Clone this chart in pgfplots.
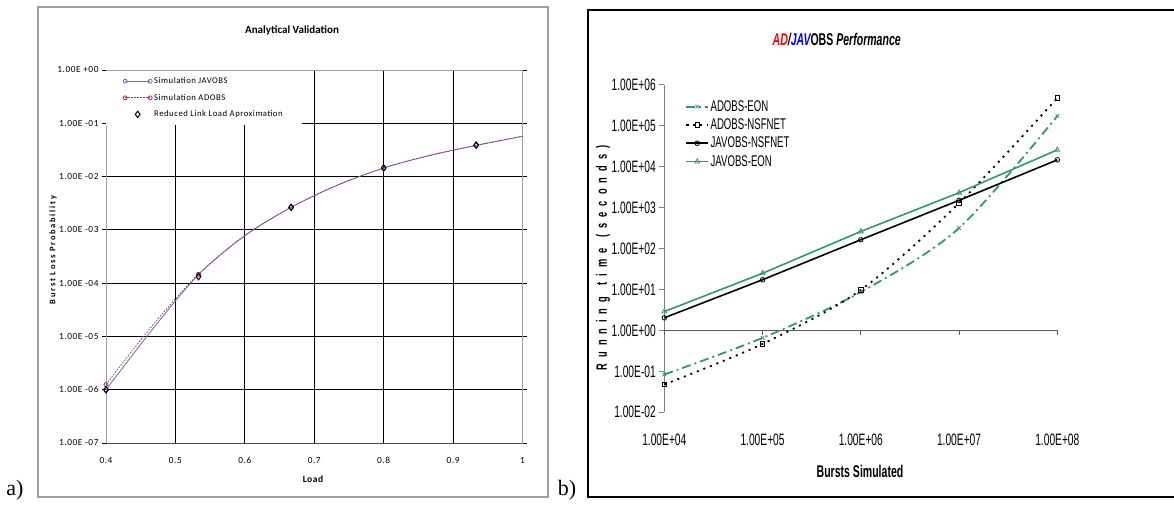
\documentclass[border=0pt]{standalone}
\usepackage{pgfplots}
\pgfplotsset{compat=1.18}
\usepackage{pgfplotstable}
\usepackage{fontspec}
\setmainfont{Liberation Serif}
\newfontfamily\lfont{Carlito}
\newfontfamily\lfontsp[LetterSpace=20]{Carlito}
\newfontfamily\lfontls[LetterSpace=6]{Carlito}
\newfontfamily\rfont[FakeStretch=0.62]{Liberation Sans}
\newfontfamily\rfontsp[FakeStretch=0.62,LetterSpace=40]{Liberation Sans}
\definecolor{javc}{HTML}{6B6BB0}
\definecolor{adc}{HTML}{A03070}
\definecolor{sgreen}{HTML}{339966}
\definecolor{axgray}{HTML}{A0A0A0}

% ---------- panel a data ----------
\pgfplotstableread{
x y
0.4 1.0e-6
0.4667 1.35e-5
0.5333 1.45e-4
0.6 7.8e-4
0.6667 2.65e-3
0.7333 6.9e-3
0.8 1.45e-2
0.8667 2.5e-2
0.9333 3.85e-2
1.0 5.7e-2
}\javtab
\pgfplotstableread{
x y
0.4 1.25e-6
0.4667 1.6e-5
0.5333 1.47e-4
0.6 7.8e-4
0.6667 2.65e-3
0.7333 6.9e-3
0.8 1.45e-2
0.8667 2.5e-2
0.9333 3.85e-2
1.0 5.7e-2
}\adtab
\pgfplotstableread{
x y
0.4 1.0e-6
0.5333 1.33e-4
0.6667 2.65e-3
0.8 1.45e-2
0.9333 3.9e-2
}\rlltab

% ---------- panel b data ----------
\pgfplotstableread{
x y
1e4 0.084
1e5 0.66
1e6 8.7
1e7 318
1e8 1.75e5
}\adeon
\pgfplotstableread{
x y
1e4 0.048
1e5 0.47
1e6 9.8
1e7 1300
1e8 4.8e5
}\adnsf
\pgfplotstableread{
x y
1e4 2.04
1e5 17.4
1e6 165
1e7 1520
1e8 1.48e4
}\javnsf
\pgfplotstableread{
x y
1e4 2.9
1e5 25
1e6 263
1e7 2330
1e8 2.6e4
}\javeon

\begin{document}
\begin{tikzpicture}[x=1pt,y=1pt]
\useasboundingbox (0,0) rectangle (1174,506);
\fill[white] (0,0) rectangle (1174,506);
% frames
\draw[axgray, line width=1.3pt] (38,9) rectangle (548,499);
\draw[black, line width=1.3pt] (588,9) rectangle (1190,496);
\node[font=\fontsize{22}{22}\selectfont] at (15,16) {a)};
\node[font=\fontsize{22}{22}\selectfont] at (567,16) {b)};

% ---------- panel a ----------
\node[font=\lfont\bfseries\fontsize{11}{13}\selectfont] at (292,475) {Analytical Validation};
\node[font=\lfontsp\bfseries\fontsize{8.5}{10}\selectfont, rotate=90] at (53,256) {Burst Loss Probability};
\node[font=\lfontls\bfseries\fontsize{9.5}{11}\selectfont] at (313,27) {Load};

\begin{axis}[
  at={(106pt,63pt)}, anchor=south west, scale only axis,
  width=416.5pt, height=373pt, clip=false,
  xmin=0.4, xmax=1, ymin=1e-7, ymax=1, ymode=log,
  xtick={0.4,0.5,0.6,0.7,0.8,0.9,1},
  xticklabels={0.4,0.5,0.6,0.7,0.8,0.9,1},
  ytick={1e-7,1e-6,1e-5,1e-4,1e-3,1e-2,1e-1,1},
  yticklabels={1.00E -07,1.00E -06,1.00E -05,1.00E -04,1.00E -03,1.00E -02,1.00E -01,1.00E +00},
  yminorticks=false,
  grid=major, major grid style={black, line width=0.9pt},
  axis line style={axgray, line width=1pt},
  tick align=outside, major tick length=4pt,
  ytick style={black, line width=0.8pt}, xtick style={draw=none},
  yticklabel style={font=\lfontls\fontsize{9.3}{10}\selectfont},
  xticklabel style={font=\lfontls\fontsize{9.3}{10}\selectfont, yshift=-7pt},
  legend style={at={(0,1)}, anchor=north west, yshift=-0.8pt, draw=none, fill=white,
    inner xsep=17pt, inner ysep=4.5pt, row sep=5pt,
    font=\lfontls\fontsize{8.7}{9}\selectfont, legend cell align=left},
  legend image code/.code={\draw[mark repeat=2,mark phase=2,#1] plot coordinates {(0pt,0pt) (12.5pt,0pt) (25pt,0pt)};},
]
\addplot[javc, line width=0.8pt, smooth, mark=o, mark size=2pt, mark indices={1,3,5,7,9},
  mark options={solid, fill=javc!40}] table[x=x,y=y] {\javtab};
\addlegendentry{Simulation JAVOBS}
\addplot[adc, line width=0.8pt, dash pattern=on 1.5pt off 1.5pt, smooth, mark=o, mark size=2pt,
  mark indices={1,3,5,7,9}, mark options={solid, fill=adc!40}] table[x=x,y=y] {\adtab};
\addlegendentry{Simulation ADOBS}
\addplot[black, only marks, mark=diamond, mark size=3.2pt, mark options={line width=1pt, fill=none}]
  table[x=x,y=y] {\rlltab};
\addlegendentry{Reduced Link Load Aproximation}
\draw[gray!60!black, line width=1pt] (axis cs:0.4,1e-7) -- (axis cs:1,1e-7);
\end{axis}

% ---------- panel b ----------
\node[font=\rfont\bfseries\itshape\fontsize{17}{20}\selectfont] at (836.7,466)
  {\textcolor{red}{AD}/\textcolor{blue}{JAV}\upshape OBS\itshape{} Performance};
\node[font=\rfontsp\bfseries\fontsize{15}{18}\selectfont, rotate=90] at (603,248)
  {Running\hspace{11pt}time\hspace{11pt}(seconds)};
\node[font=\rfont\bfseries\fontsize{17}{20}\selectfont] at (860,34.3) {Bursts Simulated};

\begin{axis}[
  at={(664.3pt,93.7pt)}, anchor=south west, scale only axis,
  width=393pt, height=327.3pt, clip=false,
  xmode=log, ymode=log, xmin=1e4, xmax=1e8, ymin=1e-2, ymax=1e6,
  axis x line*=bottom, axis y line*=left,
  x axis line style={draw=none}, y axis line style={gray, line width=1.2pt},
  xtick={1e4,1e5,1e6,1e7,1e8},
  xticklabels={1.00E+04,1.00E+05,1.00E+06,1.00E+07,1.00E+08},
  ytick={1e-2,1e-1,1,1e1,1e2,1e3,1e4,1e5,1e6},
  yticklabels={1.00E-02,1.00E-01,1.00E+00,1.00E+01,1.00E+02,1.00E+03,1.00E+04,1.00E+05,1.00E+06},
  xminorticks=false, yminorticks=false,
  xtick style={draw=none}, ytick style={gray, line width=1pt},
  tick align=outside, major tick length=5pt,
  ticklabel style={font=\rfont\fontsize{16.5}{16}\selectfont},
  xticklabel style={yshift=-13pt},
  legend style={at={(0.053,0.958)}, anchor=north west, draw=none, fill=none,
    inner sep=0pt, row sep=3pt, nodes={inner sep=1.5pt},
    font=\rfont\fontsize{15.5}{15}\selectfont, legend cell align=left},
  legend image code/.code={\draw[mark repeat=2,mark phase=2,#1] plot coordinates {(0pt,0pt) (11pt,0pt) (22pt,0pt)};},
]
\draw[gray!70!black, line width=1.2pt] (axis cs:1e4,1) -- (axis cs:1e8,1);
\pgfplotsinvokeforeach{1e4,1e5,1e6,1e7,1e8}{
  \draw[gray!70!black, line width=1pt] (axis cs:#1,1) -- ++(0pt,-5pt);
}
\addplot[sgreen, line width=1.8pt, dash pattern=on 9pt off 4pt on 2pt off 4pt, smooth,
  mark=x, mark size=2.5pt, mark options={solid, line width=0.8pt}] table[x=x,y=y] {\adeon};
\addlegendentry{ADOBS-EON}
\addplot[black, line width=1.8pt, dash pattern=on 2pt off 5pt, smooth,
  mark=square, mark size=2.2pt, mark options={solid, line width=0.8pt, fill=white}] table[x=x,y=y] {\adnsf};
\addlegendentry{ADOBS-NSFNET}
\addplot[black, line width=1.6pt, mark=o, mark size=2.3pt,
  mark options={solid, line width=0.8pt, fill=white}] table[x=x,y=y] {\javnsf};
\addlegendentry{JAVOBS-NSFNET}
\addplot[sgreen, line width=1.6pt, mark=triangle, mark size=2.8pt,
  mark options={solid, line width=0.8pt, fill=white}] table[x=x,y=y] {\javeon};
\addlegendentry{JAVOBS-EON}
\end{axis}
\end{tikzpicture}
\end{document}
